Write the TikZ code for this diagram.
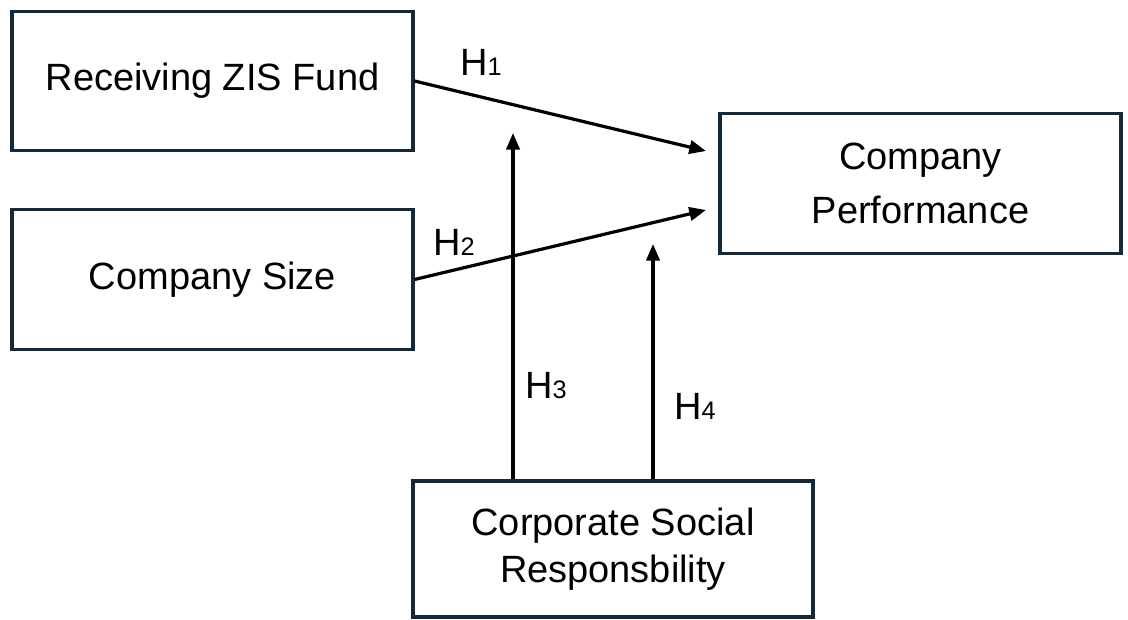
\documentclass[tikz,border=0pt]{standalone}
\usepackage{fontspec}
\setmainfont{Liberation Sans}
\usetikzlibrary{arrows.meta}
\definecolor{boxline}{HTML}{14293A}
\newcommand{\hyp}[1]{H{\fontsize{19}{22}\selectfont #1}}
\tikzset{varbox/.style={draw=boxline, line width=2.3pt, minimum width=300.75pt,
             minimum height=104.5pt, align=center, inner sep=0pt,
             font=\fontsize{28.5}{41}\selectfont},
         hyparrow/.style={draw=black, line width=2.4pt, -{Triangle[length=12.5pt,width=10pt]}},
         hyplabel/.style={anchor=base west, inner sep=0pt, font=\fontsize{28.5}{34}\selectfont}}

\begin{document}
\begin{tikzpicture}[x=0.75pt, y=-0.75pt]
	\useasboundingbox (0,0) rectangle (1128,619);
	% variables
	\node [varbox] (fund) at (212.5,81) {Receiving ZIS Fund};
	\node [varbox] (size) at (212.5,279.5) {Company Size};
	\node [varbox] (perf) at (920.5,183.5) {Company\\Performance};
	\node [varbox, minimum width=300pt, minimum height=102pt,
	       font=\fontsize{28.5}{35}\selectfont] (csr) at (613,549) {Corporate Social\\Responsbility};
	% arrow ends
	\coordinate (t1) at (706,151);
	\coordinate (t2) at (706,210);
	\coordinate (t3) at (513,133);
	\coordinate (t4) at (653,244);
	\draw [hyparrow] (fund.east) -- (t1);
	\draw [hyparrow] (size.east) -- (t2);
	\draw [hyparrow] (csr.north -| t3) -- (t3);
	\draw [hyparrow] (csr.north -| t4) -- (t4);
	% hypotheses
	\node [hyplabel] (h1) at (460,75) {\hyp{1}};
	\node [hyplabel] (h2) at (433,255) {\hyp{2}};
	\node [hyplabel] (h3) at (525,398) {\hyp{3}};
	\node [hyplabel] (h4) at (674,419) {\hyp{4}};
\end{tikzpicture}
\end{document}
